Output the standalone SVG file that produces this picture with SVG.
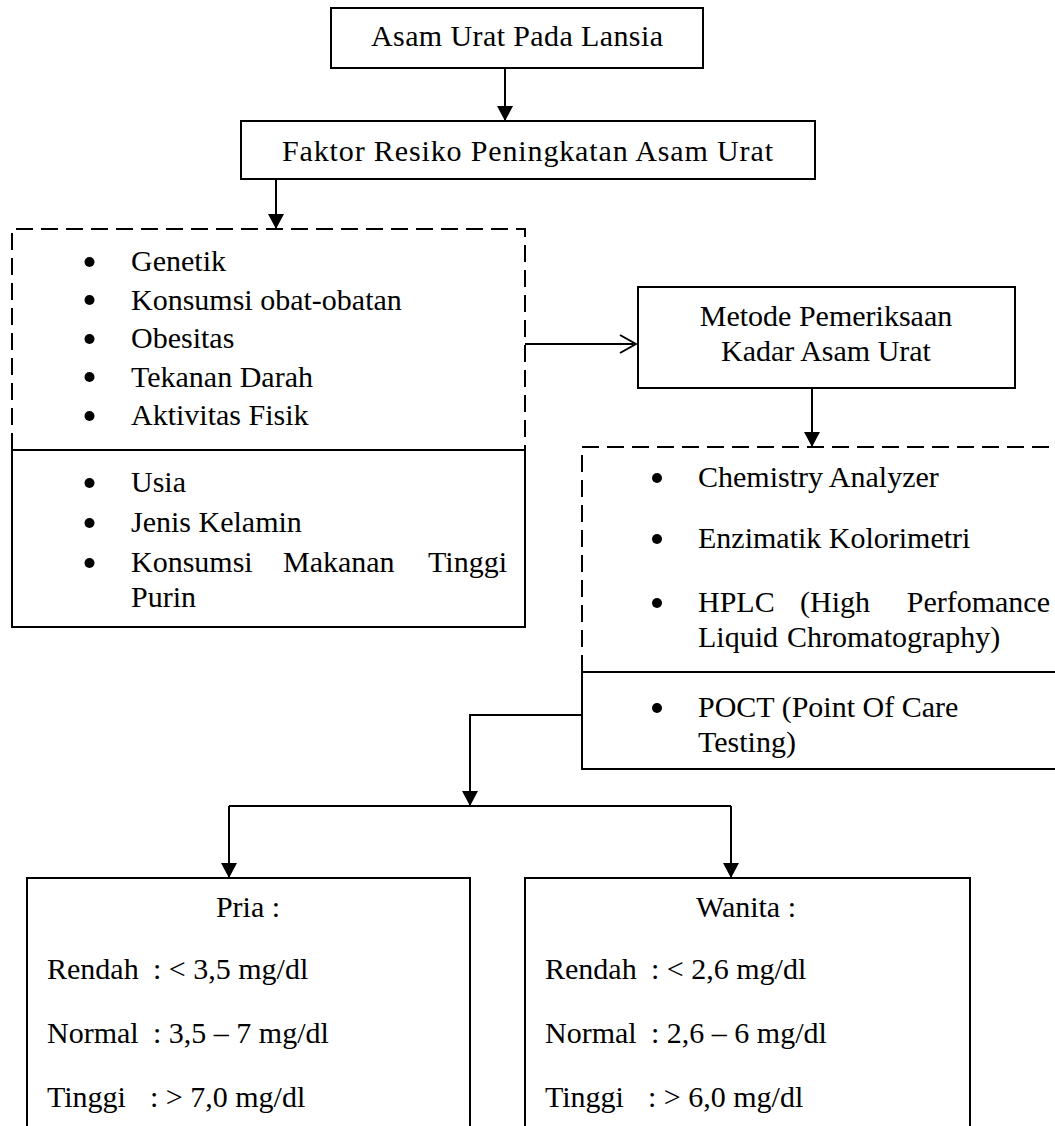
<svg xmlns="http://www.w3.org/2000/svg" width="1055" height="1126" viewBox="0 0 1055 1126">
<defs>
<style>
.box{fill:none;stroke:#000;stroke-width:2}
.dash{fill:none;stroke:#000;stroke-width:2;stroke-dasharray:17 8}
.ln{fill:none;stroke:#000;stroke-width:2}
text{font-family:"Liberation Serif","Times New Roman",serif;font-size:30px;fill:#000}
.c{text-anchor:middle}
.e{text-anchor:end}
.b{fill:#000}
</style>
<marker id="ah" viewBox="0 0 15 16" refX="15" refY="8" markerWidth="15" markerHeight="16" markerUnits="userSpaceOnUse" orient="auto">
<path d="M0,0 L15,8 L0,16 z" fill="#000"/>
</marker>
<marker id="oh" viewBox="0 0 18 20" refX="17" refY="10" markerWidth="18" markerHeight="20" markerUnits="userSpaceOnUse" orient="auto">
<path d="M1,1 L17,10 L1,19" fill="none" stroke="#000" stroke-width="2"/>
</marker>
</defs>
<rect width="1055" height="1126" fill="#fff"/>

<g id="connectors">
<path class="ln" d="M505,68 V121" marker-end="url(#ah)"/>
<path class="ln" d="M276,179 V229" marker-end="url(#ah)"/>
<path class="ln" d="M525,344 H636" marker-end="url(#oh)"/>
<path class="ln" d="M812,388 V447" marker-end="url(#ah)"/>
<path class="ln" d="M582,715 H470 V806" marker-end="url(#ah)"/>
<path class="ln" d="M229,806 H731"/>
<path class="ln" d="M229,806 V878" marker-end="url(#ah)"/>
<path class="ln" d="M731,806 V878" marker-end="url(#ah)"/>
</g>

<g id="n-asam-urat">
<rect class="box" x="331" y="8" width="372" height="60"/>
<text class="c" x="517" y="46" textLength="292" lengthAdjust="spacing">Asam Urat Pada Lansia</text>
</g>

<g id="n-faktor">
<rect class="box" x="241" y="121" width="574" height="58"/>
<text x="282" y="161" textLength="491" lengthAdjust="spacing">Faktor Resiko Peningkatan Asam Urat</text>
</g>

<g id="n-faktor-list">
<path class="dash" d="M12,450 V229 H525 V450"/>
<rect class="box" x="12" y="450" width="513" height="177"/>
<circle class="b" cx="89.5" cy="262" r="5"/><text x="131" y="271">Genetik</text>
<circle class="b" cx="89.5" cy="300" r="5"/><text x="131" y="309.5">Konsumsi  obat-obatan</text>
<circle class="b" cx="89.5" cy="339" r="5"/><text x="131" y="348">Obesitas</text>
<circle class="b" cx="89.5" cy="377" r="5"/><text x="131" y="386.5">Tekanan Darah</text>
<circle class="b" cx="89.5" cy="416" r="5"/><text x="131" y="425">Aktivitas Fisik</text>
<circle class="b" cx="89.5" cy="483" r="5"/><text x="131" y="492">Usia</text>
<circle class="b" cx="89.5" cy="523" r="5"/><text x="131" y="532">Jenis Kelamin</text>
<circle class="b" cx="89.5" cy="563" r="5"/><text x="131" y="572">Konsumsi</text><text x="283" y="572">Makanan</text><text class="e" x="507" y="572">Tinggi</text>
<text x="131" y="607">Purin</text>
</g>

<g id="n-metode">
<rect class="box" x="638" y="287" width="377" height="101"/>
<text class="c" x="826" y="326">Metode Pemeriksaan</text>
<text class="c" x="826" y="361">Kadar Asam Urat</text>
</g>

<g id="n-metode-list">
<path class="dash" d="M582,672 V447 H1060"/>
<path class="box" d="M1060,672 H582 V769 H1060"/>
<circle class="b" cx="657" cy="478" r="5"/><text x="698" y="487">Chemistry  Analyzer</text>
<circle class="b" cx="657" cy="539" r="5"/><text x="698" y="548">Enzimatik  Kolorimetri</text>
<circle class="b" cx="657" cy="603" r="5"/><text x="698" y="612">HPLC</text><text x="800" y="612">(High</text><text class="e" x="1050" y="612">Perfomance</text>
<text x="698" y="647">Liquid</text><text x="787" y="647">Chromatography)</text>
<circle class="b" cx="657" cy="708" r="5"/><text x="698" y="717">POCT (Point  Of Care</text>
<text x="698" y="752">Testing)</text>
</g>

<g id="n-pria">
<path class="box" d="M27,1130 V878 H470 V1130"/>
<text class="c" x="248" y="917">Pria  :</text>
<text x="47" y="979">Rendah</text><text x="153" y="979">: &lt; 3,5 mg/dl</text>
<text x="47" y="1043">Normal</text><text x="153" y="1043">: 3,5 – 7 mg/dl</text>
<text x="47" y="1107">Tinggi</text><text x="150" y="1107">: &gt; 7,0 mg/dl</text>
</g>

<g id="n-wanita">
<path class="box" d="M525,1130 V878 H970 V1130"/>
<text class="c" x="746" y="917">Wanita  :</text>
<text x="545" y="979">Rendah</text><text x="651" y="979">: &lt; 2,6 mg/dl</text>
<text x="545" y="1043">Normal</text><text x="651" y="1043">: 2,6 – 6 mg/dl</text>
<text x="545" y="1107">Tinggi</text><text x="648" y="1107">: &gt; 6,0 mg/dl</text>
</g>
</svg>
